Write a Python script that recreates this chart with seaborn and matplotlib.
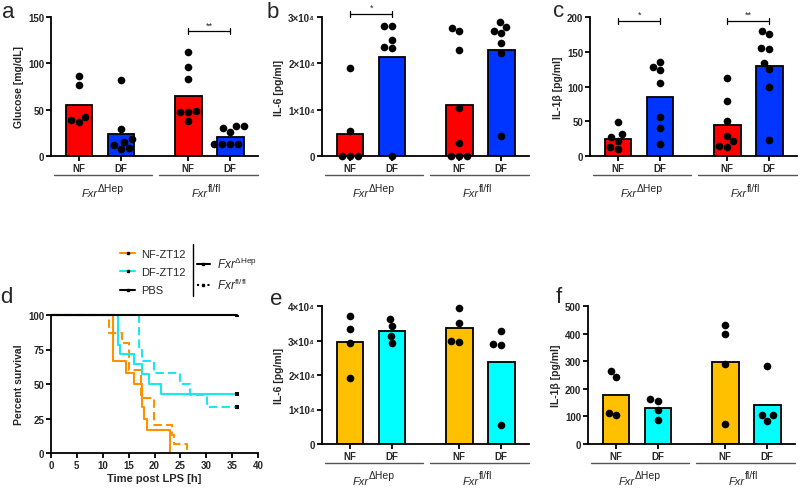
import numpy as np
import pandas as pd
import seaborn as sns
import matplotlib.pyplot as plt
import matplotlib.transforms as mtransforms
from matplotlib.lines import Line2D

sns.set_style("ticks")
plt.rcParams['font.family'] = ['Liberation Sans', 'DejaVu Sans']
plt.rcParams['mathtext.fontset'] = 'custom'
plt.rcParams['mathtext.rm'] = 'Liberation Sans:weight=normal'
plt.rcParams['mathtext.it'] = 'Liberation Sans:italic:weight=normal'
plt.rcParams['mathtext.bf'] = 'Liberation Sans:bold'

# ---- data ----
diets = ['NF', 'DF', 'NF', 'DF']

# a: glucose
gluc_pts = [[86, 77, 42.6, 37, 39],
            [82, 29, 18.8, 15.5, 12, 8, 8.3],
            [112, 96, 83, 47.7, 48.8, 47, 38],
            [32.5, 30.7, 26.4, 32.5, 13.4, 12.6, 12.6, 13]]
gluc_bar = [55.3, 24.2, 64.3, 21]

# b: IL-6
il6_pts = [[19100, 5400, 0, 0, 0],
           [28100, 28000, 25100, 23600, 23300, 0],
           [27000, 27700, 22800, 10400, 2800, 0, 0, 0],
           [28900, 26900, 26500, 27800, 24400, 22200, 4300]]
il6_bar = [4840, 21260, 11100, 22800]

# c: IL-1b
il1b_pts = [[49, 31.3, 27.5, 21.7, 10.6, 13],
            [135, 124, 128, 104.6, 55.4, 40.5, 17.8],
            [112.8, 79, 50, 28.4, 21.2, 13, 14.5],
            [175.4, 180, 156, 153.7, 133.5, 124.8, 98.8, 23.6]]
il1b_bar = [24.1, 85.3, 44.3, 129.6]

# e: IL-6 (ZT12)
e_pts = [[37000, 33300, 29300, 19000],
         [36300, 34200, 31400, 29200],
         [39500, 35200, 29700, 30000],
         [32700, 29100, 28600, 5500]]
e_bar = [29500, 32700, 33500, 23800]

# f: IL-1b (ZT12)
f_pts = [[264, 242, 113, 104],
         [155, 163, 122, 88],
         [432, 400, 291, 72],
         [284, 104, 83, 104]]
f_bar = [179, 131, 297, 142]

# d: survival curves
nf_dhep_t = [0, 12.0, 14.4, 16.0, 17.5, 18.0, 18.6, 23.0]
nf_dhep_s = [100, 66.7, 58.3, 50.0, 33.3, 25.0, 16.7, 0]
nf_fl_t = [0, 11.3, 13.7, 15.0, 17.3, 19.9, 23.4, 23.7, 26.2]
nf_fl_s = [100, 86.7, 80, 60, 40, 20, 13.3, 6.7, 0]
df_dhep_t = [0, 13.0, 13.4, 16.0, 17.6, 18.9, 21.2, 36]
df_dhep_s = [100, 78.6, 71.4, 64.3, 57.1, 50.0, 42.9, 42.9]
df_fl_t = [0, 17.0, 17.6, 19.9, 25.0, 26.9, 30.1, 36]
df_fl_s = [100, 75, 66.7, 58.3, 50, 41.7, 33.3, 33.3]
pbs_t = [0, 36]
pbs_s = [100, 100]
censor_t = [36, 36, 36]
censor_s = [100, 42.9, 33.3]

# ---- layout ----
pos = [0, 1, 2.6, 3.6]
split_x = [0.44, 3.07]
group_lines = [(-0.61, 1.73), (1.9, 4.27)]
red, blue = '#fe0000', '#0034ff'
yellow, cyan = '#ffc000', '#00ffff'
orange_line, cyan_line = '#ff9000', '#1ae8f0'

fig = plt.figure(figsize=(8, 4.89), dpi=100)
W, H = 800, 489


def make_ax(left, top, width=207, height=139):
    return fig.add_axes([left / W, 1 - (top + height) / H, width / W, height / H])


def style_ax(ax):
    sns.despine(ax=ax)
    for s in ['left', 'bottom']:
        ax.spines[s].set_linewidth(1.3)
        ax.spines[s].set_color('black')
    ax.tick_params(width=1.3, length=3.5, labelsize=7, pad=1.5, color='black')


def bar_panel(ax, points, heights, c1, c2, ylim, yticks, yticklabels, ylabel):
    rows = [(p, v) for p, vals in zip(pos, points) for v in vals]
    pts = pd.DataFrame(rows, columns=['x', 'y'])
    bars = pd.DataFrame({'x': pos, 'y': heights, 'diet': diets})
    sns.barplot(data=bars, x='x', y='y', hue='diet', palette={'NF': c1, 'DF': c2},
                native_scale=True, width=0.63, edgecolor='black', linewidth=1.3,
                saturation=1, errorbar=None, legend=False, ax=ax)
    sns.swarmplot(data=pts, x='x', y='y', native_scale=True, color='black',
                  size=5.5, ax=ax)
    for coll in ax.collections:
        coll.set_clip_on(False)
    ax.set_xlim(-0.67, 4.26)
    ax.set_ylim(*ylim)
    ax.set_xticks(pos)
    ax.set_xticklabels(diets)
    ax.set_yticks(yticks)
    ax.set_yticklabels(yticklabels)
    ax.set_xlabel('')
    ax.set_ylabel(ylabel, fontsize=7.5, fontweight='bold', labelpad=3)
    style_ax(ax)
    tr = ax.get_xaxis_transform()
    for (x0, x1) in group_lines:
        ax.plot([x0, x1], [-0.137, -0.137], transform=tr, clip_on=False,
                color='#555555', lw=1)
    for xs, sup in zip(split_x, ['ΔHep', 'fl/fl']):
        ax.text(xs, -0.265, 'Fxr', style='italic', ha='right',
                va='center', fontsize=8, transform=tr)
        ax.text(xs, -0.265, sup, ha='left', va='center', fontsize=7.5,
                transform=mtransforms.offset_copy(tr, fig=fig, y=3.8, units='points'))


def bracket(ax, x0, x1, y, txt):
    h = ax.get_ylim()[1] * 0.022
    ax.plot([x0, x1], [y, y], color='black', lw=0.9, clip_on=False)
    for x in (x0, x1):
        ax.plot([x, x], [y - h, y + h], color='black', lw=0.9, clip_on=False)
    ax.text((x0 + x1) / 2, y + h * 0.5, txt, ha='center', va='bottom', fontsize=6.5)


# a
ax_a = make_ax(51, 18)
bar_panel(ax_a, gluc_pts, gluc_bar, red, blue, (0, 150), [0, 50, 100, 150],
          ['0', '50', '100', '150'], 'Glucose [mg/dL]')
bracket(ax_a, pos[2], pos[3], 134.8, '**')

# b
ax_b = make_ax(322, 18)
bar_panel(ax_b, il6_pts, il6_bar, red, blue, (0, 30000), [0, 10000, 20000, 30000],
          ['0', '1×10⁴', '2×10⁴', '3×10⁴'], 'IL-6 [pg/ml]')
bracket(ax_b, pos[0], pos[1], 30700, '*')

# c
ax_c = make_ax(590, 18)
bar_panel(ax_c, il1b_pts, il1b_bar, red, blue, (0, 200), [0, 50, 100, 150, 200],
          ['0', '50', '100', '150', '200'], 'IL-1β [pg/ml]')
bracket(ax_c, pos[0], pos[1], 194.7, '*')
bracket(ax_c, pos[2], pos[3], 194.7, '**')

# e
ax_e = make_ax(322, 307, height=138)
bar_panel(ax_e, e_pts, e_bar, yellow, cyan, (0, 40000), [0, 10000, 20000, 30000, 40000],
          ['0', '1×10⁴', '2×10⁴', '3×10⁴', '4×10⁴'], 'IL-6 [pg/ml]')

# f
ax_f = make_ax(588, 307, height=138)
bar_panel(ax_f, f_pts, f_bar, yellow, cyan, (0, 500), [0, 100, 200, 300, 400, 500],
          ['0', '100', '200', '300', '400', '500'], 'IL-1β [pg/ml]')

# d survival
ax_d = make_ax(51, 316, height=138)
dash = (4, 2)
curves = [(nf_dhep_t, nf_dhep_s, orange_line, '-'),
          (nf_fl_t, nf_fl_s, orange_line, '--'),
          (df_dhep_t, df_dhep_s, cyan_line, '-'),
          (df_fl_t, df_fl_s, cyan_line, '--'),
          (pbs_t, pbs_s, 'black', '-')]
for t, s, col, ls in curves:
    line_kw = dict(dashes=dash) if ls == '--' else {}
    sns.lineplot(x=t, y=s, color=col, lw=1.5, drawstyle='steps-post',
                 estimator=None, sort=False, ax=ax_d, **line_kw)
for ln in ax_d.lines:
    ln.set_clip_on(False)
sns.scatterplot(x=censor_t, y=censor_s, marker='s', s=5, color='black',
                linewidth=0, ax=ax_d, zorder=5)
ax_d.set_xlim(0, 40)
ax_d.set_ylim(0, 100)
ax_d.set_xticks(range(0, 41, 5))
ax_d.set_yticks([0, 25, 50, 75, 100])
ax_d.set_xlabel('Time post LPS [h]', fontsize=8, fontweight='bold', labelpad=2)
ax_d.set_ylabel('Percent survival', fontsize=7.5, fontweight='bold', labelpad=3)
style_ax(ax_d)

h1 = [Line2D([], [], color=c, lw=1.5, marker='s', markersize=1.6,
             markerfacecolor='black', markeredgecolor='black') for c in
      [orange_line, cyan_line, 'black']]
leg1 = ax_d.legend(h1, ['NF-ZT12', 'DF-ZT12', 'PBS'], loc='upper left',
                   bbox_to_anchor=(0.333, 1.48), frameon=False,
                   prop={'size': 8, 'weight': 'normal'},
                   handlelength=1.4, handletextpad=0.5, labelspacing=0.75,
                   borderpad=0, borderaxespad=0)
ax_d.add_artist(leg1)
h2 = [Line2D([], [], color='black', lw=1.5, marker='s', markersize=1.6),
      Line2D([], [], color='black', lw=1.5, ls=(0, (1, 1.5)), marker='s', markersize=1.6)]
ax_d.legend(h2, [r'$\mathit{Fxr}^{\Delta\mathrm{Hep}}$', r'$\mathit{Fxr}^{\mathrm{fl/fl}}$'],
            loc='upper left', bbox_to_anchor=(0.705, 1.43), frameon=False,
            prop={'size': 8.5, 'weight': 'normal'},
            handlelength=1.1, handletextpad=0.6, labelspacing=0.5,
            borderpad=0, borderaxespad=0)
ax_d.plot([0.686, 0.686], [1.514, 1.138], transform=ax_d.transAxes, clip_on=False,
          color='black', lw=1)

# panel letters
for x, y, letter in [(2, 18, 'a'), (267, 18, 'b'), (553, 17, 'c'),
                     (0, 303, 'd'), (270, 305, 'e'), (556, 303, 'f')]:
    fig.text(x / W, 1 - y / H, letter, fontsize=16, va='baseline', ha='left')

# bold tick labels (set after the ticks exist)
fig.canvas.draw()
for ax in fig.axes:
    for lab in ax.get_xticklabels() + ax.get_yticklabels():
        lab.set_fontweight('bold')

fig.savefig('out.png', dpi=100)
